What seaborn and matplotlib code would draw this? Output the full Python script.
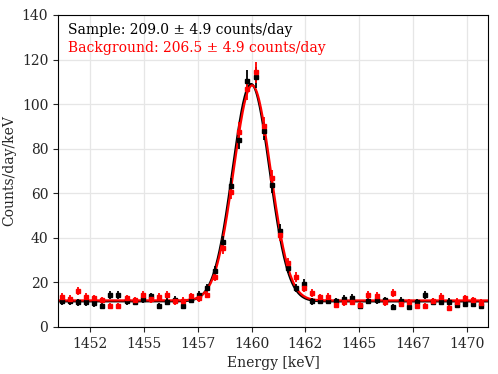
import numpy as np
import pandas as pd
import matplotlib
matplotlib.use("Agg")
import matplotlib.pyplot as plt
from matplotlib.ticker import FuncFormatter, MultipleLocator
import seaborn as sns

# bin centres [keV], 0.375 keV bins
energy = 1451.1875 + 0.375 * np.arange(53)

sample_rate = [11.5, 11.5, 11.0, 11.0, 10.6, 9.6, 14.3, 14.3, 11.5, 11.2,
               12.4, 13.7, 9.5, 11.3, 12.3, 9.5, 12.2, 14.3, 17.6, 25.3,
               38.0, 63.3, 83.9, 110.5, 112.0, 88.0, 63.5, 43.2, 26.5, 17.4,
               19.4, 11.6, 11.8, 11.8, 11.7, 12.7, 13.0, 9.4, 11.8, 12.0,
               12.1, 9.1, 11.8, 9.1, 11.2, 14.4, 11.4, 11.4, 11.4, 9.7,
               10.5, 10.5, 9.5]
background_rate = [13.5, 12.6, 16.0, 13.4, 12.9, 12.1, 9.5, 9.5, 12.9, 12.0,
                   14.3, 12.5, 13.6, 14.5, 11.5, 11.8, 13.8, 13.0, 14.5, 22.6,
                   35.3, 60.7, 87.6, 106.6, 114.3, 90.0, 67.0, 41.3, 28.5, 22.5,
                   17.5, 15.2, 13.3, 13.4, 9.9, 11.0, 11.2, 10.0, 14.4, 14.0,
                   11.0, 15.1, 10.3, 11.0, 9.6, 9.6, 11.6, 13.6, 8.7, 11.4,
                   12.9, 12.1, 10.9]

# gaussian + flat fit parameters: amplitude, mean, sigma, baseline
sample_fit = [97.5, 1459.98, 0.86, 11.5]
background_fit = [96.5, 1460.03, 0.86, 11.9]

sample_label = "Sample: 209.0 \u00b1 4.9 counts/day"
background_label = "Background: 206.5 \u00b1 4.9 counts/day"

# poisson errors, counts -> counts/day/keV
exposure = 5.0


def gauss_line(pars, x):
    a, mu, sig, b = pars
    return a * np.exp(-0.5 * ((x - mu) / sig) ** 2) + b


sns.set_style("ticks")
plt.rcParams["font.family"] = ["DejaVu Serif"]
plt.rcParams["font.size"] = 10

fig = plt.figure(figsize=(4.98, 3.74), dpi=100)
ax = fig.add_axes([0.1165, 0.1257, 0.8635, 0.8343])

xfine = np.linspace(1451, 1471, 800)
fits = pd.DataFrame({
    "energy": np.concatenate([xfine, xfine]),
    "rate": np.concatenate([gauss_line(sample_fit, xfine), gauss_line(background_fit, xfine)]),
    "set": ["sample"] * len(xfine) + ["background"] * len(xfine),
})
sns.lineplot(data=fits, x="energy", y="rate", hue="set",
             palette={"sample": "black", "background": "red"},
             linewidth=1.6, legend=False, ax=ax, zorder=2)

for rate, col in [(sample_rate, "black"), (background_rate, "red")]:
    rate = np.array(rate)
    err = np.sqrt(rate * exposure) / exposure
    ax.errorbar(energy, rate, yerr=err, fmt="s", color=col, ms=3.4,
                elinewidth=1.3, capsize=0, zorder=3)

ax.set_xlim(1451, 1471)
ax.set_ylim(0, 140)
ax.xaxis.set_major_locator(MultipleLocator(2.5))
ax.xaxis.set_major_formatter(FuncFormatter(lambda v, p: f"{int(v)}"))
ax.yaxis.set_major_locator(MultipleLocator(20))
ax.grid(True, color="#e6e6e6", linewidth=0.9)
ax.set_axisbelow(True)
for s in ax.spines.values():
    s.set_color("black")
ax.set_xlabel("Energy [keV]")
ax.set_ylabel("Counts/day/keV")

ax.text(0.023, 0.975, sample_label, color="black", transform=ax.transAxes, va="top")
ax.text(0.023, 0.918, background_label, color="red", transform=ax.transAxes, va="top")

fig.savefig("out.png", dpi=100)
